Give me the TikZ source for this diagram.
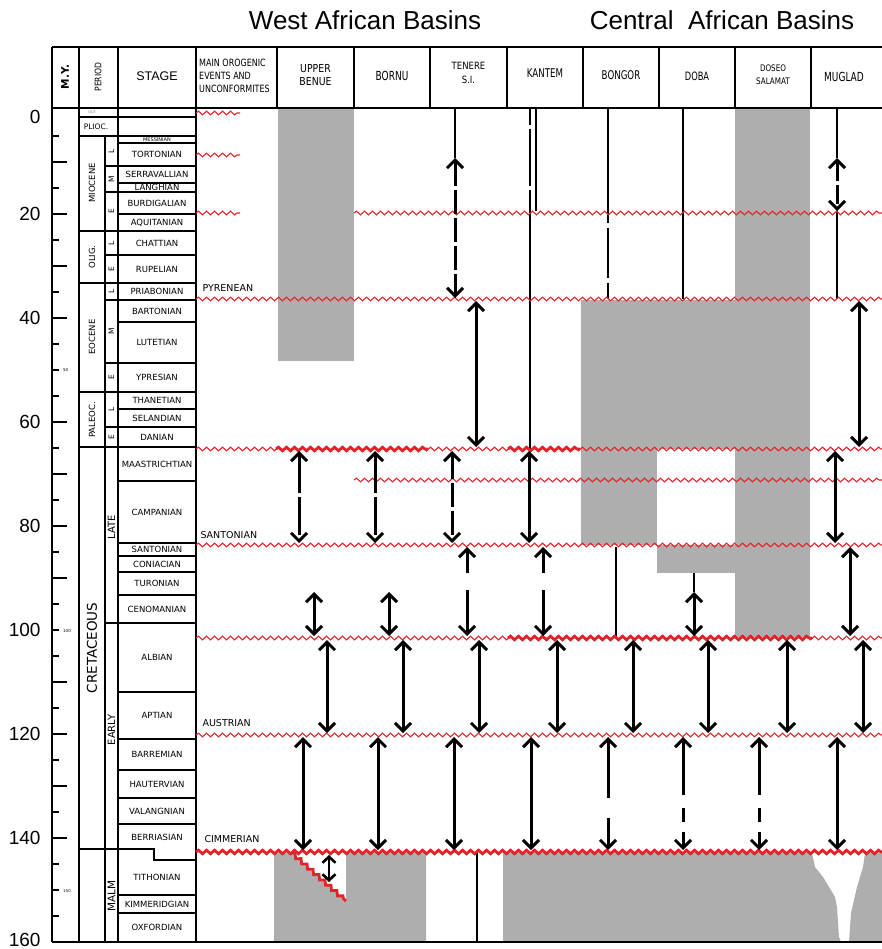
\documentclass[tikz,border=0pt]{standalone}
\usepackage{fontspec}
\usepackage{graphicx}
\setmainfont{DejaVu Sans}
\newfontfamily\arial{Liberation Sans}
\usetikzlibrary{arrows.meta,decorations.pathmorphing}
\definecolor{gfill}{HTML}{AEAEAE}
\definecolor{wred}{HTML}{E3232A}
\newcommand{\nar}[3]{\scalebox{#1}[1]{\fontsize{#2}{#2}\selectfont #3}}
\begin{document}
\begin{tikzpicture}[x=1pt,y=-1pt,
  >={Straight Barb[length=8pt,width=16pt]},
  frame/.style={line width=2pt},
  grid/.style={line width=1.5pt},
  thinl/.style={line width=1.2pt},
  wav/.style={draw=wred,line width=1.1pt,decorate,decoration={snake,segment length=8pt,amplitude=1.8pt}},
  wavb/.style={wav,line width=2.8pt},
  dar/.style={line width=3pt,<->},
  sar/.style={line width=3pt,->},
  bar/.style={line width=3pt},
  stg/.style={font=\fontsize{8.5}{9}\selectfont},
  per/.style={font=\fontsize{8.5}{9}\selectfont,rotate=90},
  sub/.style={font=\fontsize{7.5}{8}\selectfont,rotate=90},
  ev/.style={font=\fontsize{9.5}{10}\selectfont,anchor=west},
  ax/.style={font=\arial\fontsize{19}{20}\selectfont,anchor=east},
  hd/.style={align=center,inner sep=0}]
\useasboundingbox (0,0) rectangle (882,949);

% ---------- gray fills ----------
\fill[gfill] (278,108) rectangle (354,361);
\fill[gfill] (735,108) rectangle (810,637);
\fill[gfill] (581,300) rectangle (735,449);
\fill[gfill] (581,449) rectangle (657,545);
\fill[gfill] (657,545) rectangle (735,573);
\fill[gfill] (274,853) -- (292,853) -- (346,901) -- (346,853) -- (426,853) -- (426,942) -- (274,942) -- cycle;
\fill[gfill] (503,853) -- (812,853) -- (815,867) -- (823,877) -- (835,897) -- (837,907) -- (839,937) -- (841,942)
  -- (849,942) -- (851,913) -- (857,887) -- (863,867) -- (865,853) -- (882,853) -- (882,942) -- (503,942) -- cycle;

% ---------- titles ----------
\node[font=\arial\fontsize{26}{30}\selectfont] (wtitle) at (365,20) {West African Basins};
\node[font=\arial\fontsize{26}{30}\selectfont] (ctitle) at (722,20) {Central\ \ African Basins};

% ---------- header ----------
\draw[frame] (52,47) -- (882,47);
\draw[frame] (52,108) -- (882,108);
\foreach \x in {52,79,118,196,277,354,430,507,583,659,735,811}
  \draw[frame] (\x,47) -- (\x,108);
\node[font=\bfseries\fontsize{10.5}{11}\selectfont,rotate=90] (hmy) at (65,77) {M.Y.};
\node[font=\fontsize{9}{9}\selectfont,rotate=90] (hper) at (98,77) {\scalebox{0.85}[1]{PERIOD}};
\node[font=\arial\fontsize{12.5}{13}\selectfont] (hstg) at (157,76) {STAGE};
\node[align=left,anchor=west,inner sep=0] (hor) at (199,76)
  {\nar{0.8}{10}{MAIN OROGENIC}\\[1pt]\nar{0.8}{10}{EVENTS AND}\\[1pt]\nar{0.8}{10}{UNCONFORMITES}};
\node[hd] (hub) at (315.5,75) {\nar{0.85}{11}{UPPER}\\[1.5pt]\nar{0.85}{11}{BENUE}};
\node[hd] (hbo) at (392,76) {\nar{0.72}{12.5}{BORNU}};
\node[hd] (hte) at (468.5,73) {\nar{0.85}{10}{TENERE}\\[1.5pt]\nar{0.85}{10}{S.I.}};
\node[hd] (hka) at (545,73) {\nar{0.72}{12}{KANTEM}};
\node[hd] (hbg) at (621,75) {\nar{0.72}{12}{BONGOR}};
\node[hd] (hdo) at (697,76) {\nar{0.72}{11.5}{DOBA}};
\node[hd] (hds) at (773,75) {\nar{0.8}{9}{DOSEO}\\[1pt]\nar{0.8}{9}{SALAMAT}};
\node[hd] (hmu) at (844,77) {\nar{0.72}{12.5}{MUGLAD}};

% ---------- left columns ----------
\draw[frame] (52,108) -- (52,942);
\draw[grid] (79,108) -- (79,942);
\draw[grid] (118,108) -- (118,942);
\draw[grid] (105,136) -- (105,942);
\draw[frame] (196,47) -- (196,942);
\foreach \y in {117,136,231,283,392,447}
  \draw[grid] (79,\y) -- (118,\y);
\foreach \y in {166,192,255,300,363,427,623}
  \draw[grid] (105,\y) -- (118,\y);
\foreach \y in {117,136,143,166,183,192,214,231,255,283,300,322,363,392,409,427,447,481,543,556,572,595,623,692,739,770,798,824,895,913}
  \draw[grid] (118,\y) -- (196,\y);
\draw[grid] (79,849) -- (154,849) -- (154,860) -- (196,860);
\draw[line width=2.6pt] (52,942) -- (882,942);

% axis ticks
\foreach \t in {10,20,30,40,60,70,80,90,110,120,130,140}
  \draw[grid] (52,{110+5.2*\t}) -- (67,{110+5.2*\t});
\foreach \t in {5,15,...,155,50,100,150}
  \draw[grid] (52,{110+5.2*\t}) -- (59,{110+5.2*\t});
\node[ax] (a0) at (44,117) {0};
\node[ax] (a20) at (44,214) {20};
\node[ax] (a40) at (44,318) {40};
\node[ax] (a60) at (44,422) {60};
\node[ax] (a80) at (44,526) {80};
\node[ax] (a100) at (44,630) {100};
\node[ax] (a120) at (44,734) {120};
\node[ax] (a140) at (44,838) {140};
\node[ax] (a160) at (44,940) {160};
\node[font=\fontsize{4}{5}\selectfont,anchor=west,inner sep=0] (s50) at (63,370) {50};
\node[font=\fontsize{4}{5}\selectfont,anchor=west,inner sep=0] (s100) at (63,631) {100};
\node[font=\fontsize{4}{5}\selectfont,anchor=west,inner sep=0] (s150) at (63,891) {150};

% period labels
\node[font=\fontsize{3.5}{4}\selectfont,text=gray,inner sep=0] (pq) at (92,112.5) {QUT};
\node[font=\fontsize{7.5}{8}\selectfont] (pp) at (96,126.5) {PLIOC.};
\node[per] (pmi) at (92,183) {MIOCENE};
\node[per] (pol) at (92,257) {OLIG.};
\node[per] (peo) at (92,337) {EOCENE};
\node[per] (ppa) at (92,420) {PALEOC.};
\node[font=\fontsize{13.5}{14}\selectfont,rotate=90] (pcr) at (92,648) {CRETACEOUS};
% sub-epochs
\node[sub] (e1) at (111.5,151) {L};
\node[sub] (e2) at (111.5,179) {M};
\node[sub] (e3) at (111.5,211.5) {E};
\node[sub] (e4) at (111.5,243) {L};
\node[sub] (e5) at (111.5,269) {E};
\node[sub] (e6) at (111.5,291.5) {L};
\node[sub] (e7) at (111.5,331.5) {M};
\node[sub] (e8) at (111.5,377.5) {E};
\node[sub] (e9) at (111.5,409.5) {L};
\node[sub] (e10) at (111.5,437) {E};
\node[font=\fontsize{10}{10}\selectfont,rotate=90] (elate) at (111.5,527) {LATE};
\node[font=\fontsize{10}{10}\selectfont,rotate=90] (eearly) at (111.5,730) {EARLY};
\node[font=\fontsize{10.5}{10}\selectfont,rotate=90] (emalm) at (111.5,896) {MALM};

% stages
\node[font=\fontsize{5}{5}\selectfont,inner sep=0] (st0) at (157,139.5) {MESSINIAN};
\foreach \a/\b/\n [count=\i] in {143/166/TORTONIAN,166/183/SERRAVALLIAN,183/192/LANGHIAN,192/214/BURDIGALIAN,
  214/231/AQUITANIAN,231/255/CHATTIAN,255/283/RUPELIAN,283/300/PRIABONIAN,300/322/BARTONIAN,322/363/LUTETIAN,
  363/392/YPRESIAN,392/409/THANETIAN,409/427/SELANDIAN,427/447/DANIAN,447/481/MAASTRICHTIAN,481/543/CAMPANIAN,
  543/556/SANTONIAN,556/572/CONIACIAN,572/595/TURONIAN,595/623/CENOMANIAN,623/692/ALBIAN,692/739/APTIAN,
  739/770/BARREMIAN,770/798/HAUTERVIAN,798/824/VALANGNIAN,824/850/BERRIASIAN,860/895/TITHONIAN,
  895/913/KIMMERIDGIAN,913/942/OXFORDIAN}
  \node[stg,inner sep=0] (st\i) at (157,{(\a+\b)/2}) {\n};

% ---------- thin black lines in basins ----------
\draw[thinl] (455,108) -- (455,158);
\draw[thinl] (530,108) -- (530,125) (530,129) -- (530,186) (530,190) -- (530,449);
\draw[thinl] (536,108) -- (536,211);
\draw[thinl] (608,108) -- (608,223) (608,228) -- (608,278) (608,283) -- (608,299);
\draw[thinl] (683,108) -- (683,299);
\draw[thinl] (837,108) -- (837,158) (837,211) -- (837,299);
\draw[thinl] (616,547) -- (616,637);
\draw[thinl] (694,573) -- (694,592);
\draw[thinl] (477,853) -- (477,942);

% ---------- unconformities (red waves) ----------
\draw[wav] (196,113) -- (240,113);
\draw[wav] (196,155) -- (240,155);
\draw[wav] (196,213) -- (240,213);
\draw[wav] (354,213) -- (882,213);
\draw[wav] (196,299) -- (882,299);
\draw[wav] (196,449) -- (882,449);
\draw[wavb] (276,449) -- (428,449);
\draw[wavb] (508,449) -- (580,449);
\draw[wav] (354,480) -- (882,480);
\draw[wav] (196,545) -- (882,545);
\draw[wav] (196,638) -- (882,638);
\draw[wavb] (508,638) -- (812,638);
\draw[wav] (196,735) -- (882,735);
\draw[wavb] (196,852) -- (882,852);
\draw[wavb] (292,853) -- (346,901);

\node[ev] (pyr) at (199,288) {PYRENEAN};
\node[ev] (san) at (197,535) {SANTONIAN};
\node[ev] (aus) at (199,723) {AUSTRIAN};
\node[ev] (cim) at (201,839) {CIMMERIAN};

% ---------- arrows ----------
% above Pyrenean
\draw[dar,dash pattern=on 24pt off 4pt] (455,158) -- (455,298);
\draw[dar,dash pattern=on 19pt off 4pt] (837,158) -- (837,211);
% Pyrenean to 65 Ma
\draw[dar] (476,301) -- (476,447);
\draw[dar] (859,301) -- (859,447);
% 65 Ma to Santonian
\draw[dar,dash pattern=on 38pt off 4pt] (299,451) -- (299,543);
\draw[dar,dash pattern=on 38pt off 4pt] (375,451) -- (375,543);
\draw[dar,dash pattern=on 24pt off 4pt] (452,451) -- (452,543);
\draw[dar] (529,451) -- (529,543);
\draw[dar] (835,451) -- (835,543);
% Santonian to Albian
\draw[dar] (314,592) -- (314,636);
\draw[dar] (389,592) -- (389,636);
\draw[sar] (467,573) -- (467,547);
\draw[sar] (467,590) -- (467,636);
\draw[sar] (543,573) -- (543,547);
\draw[sar] (543,590) -- (543,636);
\draw[dar] (694,592) -- (694,636);
\draw[dar] (850,547) -- (850,636);
% Albian to Austrian
\foreach \x in {327,403,479,557,633,708,787,863}
  \draw[dar] (\x,640) -- (\x,733);
% Austrian to Cimmerian
\foreach \x in {303,378,454,531,837}
  \draw[dar] (\x,737) -- (\x,850);
\draw[sar] (608,798) -- (608,737);
\draw[sar] (608,818) -- (608,850);
\foreach \x in {683,759}{
  \draw[sar] (\x,795) -- (\x,737);
  \draw[bar] (\x,808) -- (\x,822);
  \draw[sar] (\x,832) -- (\x,850);
}
% below Cimmerian
\draw[line width=2.6pt,<->,>={Straight Barb[length=6pt,width=13pt]}] (329,855) -- (329,882);
\end{tikzpicture}
\end{document}
